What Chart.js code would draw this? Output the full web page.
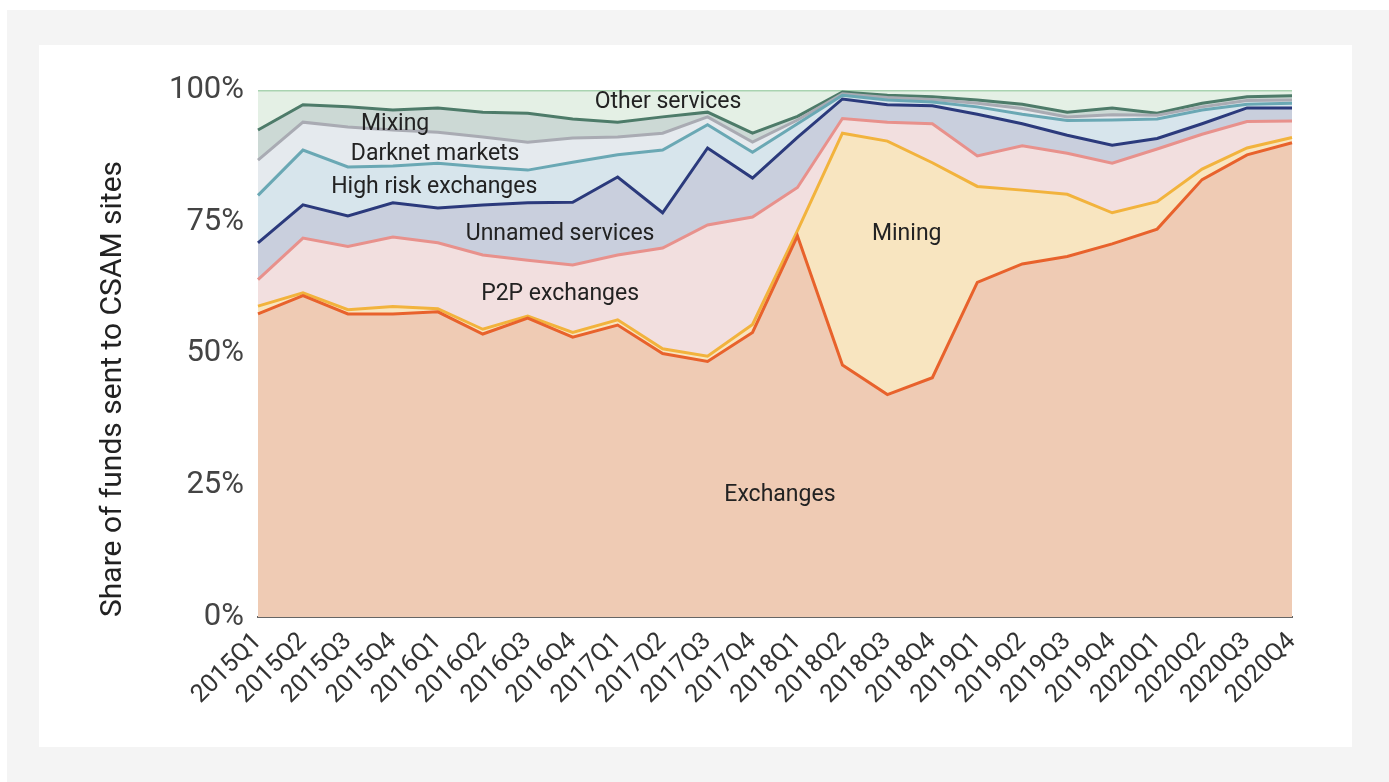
<!DOCTYPE html>
<html>
<head>
  <script src="https://cdn.jsdelivr.net/npm/chart.js"></script>
  <style>
    body { margin: 0; background: #fff; font-family: Roboto, sans-serif; }
    #frame { position: absolute; left: 7px; top: 10px; width: 1382px; height: 772px; background: #f4f4f4; }
    #card { position: absolute; left: 39px; top: 45px; width: 1313px; height: 702px; background: #fff; }
    #chart { position: absolute; left: 0; top: 0; }
  </style>
</head>
<body>
  <div id="frame"></div>
  <div id="card"></div>
  <canvas id="chart" width="1389" height="782"></canvas>
  <script>
    const quarters = ['2015Q1','2015Q2','2015Q3','2015Q4','2016Q1','2016Q2','2016Q3','2016Q4',
      '2017Q1','2017Q2','2017Q3','2017Q4','2018Q1','2018Q2','2018Q3','2018Q4',
      '2019Q1','2019Q2','2019Q3','2019Q4','2020Q1','2020Q2','2020Q3','2020Q4'];

    // share of funds (%) per category, stacked bottom to top
    const exchanges = [57.5,61.0,57.5,57.5,57.9,53.7,56.7,53.1,55.4,50.0,48.5,54.0,72.3,47.8,42.2,45.4,63.5,67.0,68.4,70.8,73.6,83.0,87.7,90.0];
    const mining = [1.5,0.5,0.8,1.4,0.6,0.9,0.4,0.9,1.0,0.9,1.0,1.5,1.0,44.0,48.1,40.8,18.2,14.0,11.8,5.9,5.2,2.0,1.3,1.0];
    const p2pExchanges = [5.0,10.4,12.0,13.2,12.5,14.1,10.6,12.8,12.3,19.1,24.9,20.4,8.2,2.8,3.6,7.4,5.8,8.4,7.8,9.4,10.0,6.6,5.0,3.1];
    const unnamedServices = [7.0,6.3,5.8,6.5,6.6,9.5,10.9,11.9,14.8,6.7,14.6,7.4,9.5,3.7,3.3,3.4,7.9,4.2,3.4,3.4,2.0,2.0,2.6,2.5];
    const highRiskExchanges = [9.0,10.4,9.3,7.0,8.5,7.2,6.2,7.6,4.2,11.9,4.4,4.9,2.6,0.7,0.9,0.7,1.4,1.8,2.8,4.8,3.7,2.6,0.7,0.9];
    const darknetMarkets = [6.7,5.3,7.6,6.8,5.9,5.7,5.3,4.6,3.4,3.2,1.5,1.9,0.7,0.3,0.5,0.5,0.7,1.1,0.7,1.0,0.7,0.6,0.7,0.6];
    const mixing = [5.7,3.3,3.8,3.8,4.6,4.7,5.5,3.6,2.8,3.1,0.9,1.7,0.7,0.3,0.4,0.5,0.6,0.8,0.9,1.3,0.4,0.7,0.7,0.8];
    const otherServices = [7.6,2.8,3.2,3.8,3.4,4.2,4.4,5.5,6.1,5.1,4.2,8.2,5.0,0.4,1.0,1.3,1.9,2.7,4.2,3.4,4.4,2.5,1.3,1.1];

    const yTicks = [0, 25, 50, 75, 100];

    // in-chart labels: [text, x index, y value]
    const areaLabels = [
      ['Other services', 9.12, 97.7],
      ['Mixing', 3.05, 93.5],
      ['Darknet markets', 3.94, 87.8],
      ['High risk exchanges', 3.92, 81.6],
      ['Unnamed services', 6.72, 72.7],
      ['Mining', 14.43, 72.7],
      ['P2P exchanges', 6.72, 61.3],
      ['Exchanges', 11.61, 23.1]
    ];

    function series(label, data, fill, line, target) {
      return {
        label: label,
        data: data,
        backgroundColor: fill,
        borderColor: line,
        borderWidth: 3,
        pointRadius: 0,
        tension: 0,
        fill: target
      };
    }

    const labelPlugin = {
      id: 'areaLabels',
      afterDatasetsDraw(chart) {
        const ctx = chart.ctx;
        const x = chart.scales.x, y = chart.scales.y;
        ctx.save();
        ctx.font = '23px Roboto';
        ctx.fillStyle = '#222';
        ctx.textAlign = 'center';
        ctx.textBaseline = 'middle';
        areaLabels.forEach(l => {
          ctx.fillText(l[0], x.getPixelForValue(l[1]), y.getPixelForValue(l[2]));
        });
        ctx.restore();
      }
    };

    new Chart(document.getElementById('chart'), {
      type: 'line',
      data: {
        labels: quarters,
        datasets: [
          series('Exchanges', exchanges, '#efcbb4', '#e8622c', 'origin'),
          series('Mining', mining, '#f8e5c0', '#f2b33d', '-1'),
          series('P2P exchanges', p2pExchanges, '#f2dfdf', '#e8918c', '-1'),
          series('Unnamed services', unnamedServices, '#c9cfdd', '#2b3a7c', '-1'),
          series('High risk exchanges', highRiskExchanges, '#d7e5ec', '#6aa8b4', '-1'),
          series('Darknet markets', darknetMarkets, '#e5eaee', '#a9abb3', '-1'),
          series('Mixing', mixing, '#ccd9d5', '#4d7b69', '-1'),
          series('Other services', otherServices, '#e4f0e5', '#a9d3b1', '-1')
        ]
      },
      options: {
        responsive: false,
        animation: false,
        layout: { padding: { left: 95, top: 90, right: 97, bottom: 30 } },
        plugins: {
          legend: { display: false },
          tooltip: { enabled: false }
        },
        scales: {
          x: {
            offset: false,
            grid: { display: false, drawTicks: false },
            border: { display: true, color: '#666', width: 2 },
            ticks: {
              autoSkip: false,
              maxRotation: 45,
              minRotation: 45,
              padding: 10,
              color: '#333',
              font: { family: 'Roboto', size: 25 }
            },
            afterFit(s) { s.height = 135; }
          },
          y: {
            stacked: true,
            min: 0,
            max: 100,
            grid: { display: false, drawTicks: false },
            border: { display: false },
            afterBuildTicks(s) { s.ticks = yTicks.map(v => ({ value: v })); },
            ticks: {
              padding: 14,
              color: '#444',
              font: { family: 'Roboto', size: 31 },
              callback: v => v + '%'
            },
            title: {
              display: true,
              text: 'Share of funds sent to CSAM sites',
              align: 'start',
              color: '#222',
              padding: 0,
              font: { family: 'Roboto', size: 30 }
            },
            afterFit(s) { s.width = 163; }
          }
        }
      },
      plugins: [labelPlugin]
    });
  </script>
</body>
</html>
